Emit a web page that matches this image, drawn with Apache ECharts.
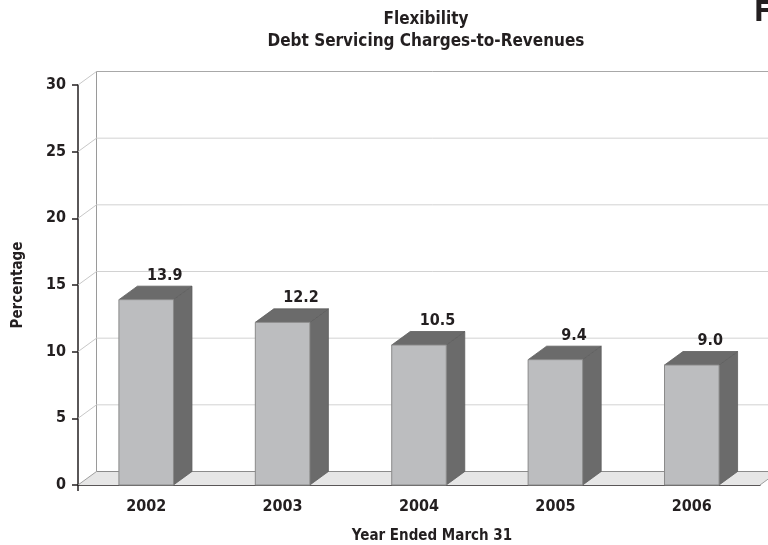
<!DOCTYPE html>
<html>
<head>
<meta charset="utf-8">
<script src="https://cdn.jsdelivr.net/npm/echarts@6/dist/echarts.min.js"></script>
<style>html,body{margin:0;padding:0;background:#fff}#c{width:768px;height:545px}</style>
</head>
<body>
<div id="c"></div>
<script>
var categories = ['2002', '2003', '2004', '2005', '2006'];
var values = [13.9, 12.2, 10.5, 9.4, 9.0];
var valueLabels = ['13.9', '12.2', '10.5', '9.4', '9.0'];
var yTicks = [0, 5, 10, 15, 20, 25, 30];

var FONT = '"DejaVu Sans Condensed", "DejaVu Sans", sans-serif';
var INK = '#231f20';
var DX = 18.5, DY = 13.5;

var chart = echarts.init(document.getElementById('c'));

function wallItem(params, api) {
  var cs = params.coordSys;
  var v = api.value(0);
  var y = api.coord([0, v])[1];
  var gx = cs.x, right = 800;
  var children = [];
  if (v === 0) {
    children.push({
      type: 'polygon',
      shape: { points: [[gx, y], [cs.x + cs.width, y], [cs.x + cs.width + DX, y - DY], [gx + DX, y - DY]] },
      style: { fill: '#e6e6e6', stroke: null },
      z2: 1
    });
    children.push({ type: 'line', shape: { x1: gx + DX, y1: y - DY, x2: right, y2: y - DY }, style: { stroke: '#8c8c8c', lineWidth: 1 }, z2: 2 });
    children.push({ type: 'line', shape: { x1: gx, y1: y, x2: gx + DX, y2: y - DY }, style: { stroke: '#a0a0a0', lineWidth: 1 }, z2: 2 });
    children.push({ type: 'line', shape: { x1: cs.x + cs.width, y1: y, x2: cs.x + cs.width + DX, y2: y - DY }, style: { stroke: '#a0a0a0', lineWidth: 1 }, z2: 2 });
    var yTop = api.coord([0, 30])[1];
    children.push({ type: 'line', shape: { x1: gx + DX, y1: yTop - DY, x2: gx + DX, y2: y - DY }, style: { stroke: '#9a9a9a', lineWidth: 1 }, z2: 2 });
    children.push({ type: 'line', shape: { x1: gx, y1: y, x2: gx, y2: y + 6 }, style: { stroke: INK, lineWidth: 1.5 }, z2: 3 });
  } else {
    var top = (v === 30);
    children.push({ type: 'line', shape: { x1: gx, y1: y, x2: gx + DX, y2: y - DY }, style: { stroke: '#c8c8c8', lineWidth: 1 }, z2: 2 });
    children.push({ type: 'line', shape: { x1: gx + DX, y1: y - DY, x2: right, y2: y - DY }, style: { stroke: top ? '#a8a8a8' : '#d2d2d2', lineWidth: 1 }, z2: 2 });
  }
  return { type: 'group', children: children };
}

function barItem(params, api) {
  var idx = api.value(0);
  var v = api.value(1);
  var top = api.coord([idx, v]);
  var base = api.coord([idx, 0]);
  var band = api.size([1, 0])[0];
  var w = band * 0.4;
  var x0 = top[0] - w / 2, x1 = top[0] + w / 2;
  var yT = top[1], yB = base[1];
  return {
    type: 'group',
    children: [
      { type: 'polygon', shape: { points: [[x1, yB], [x1 + DX, yB - DY], [x1 + DX, yT - DY], [x1, yT]] },
        style: { fill: '#6b6b6b', stroke: '#5e5e5e', lineWidth: 0.8 } },
      { type: 'polygon', shape: { points: [[x0, yT], [x0 + DX, yT - DY], [x1 + DX, yT - DY], [x1, yT]] },
        style: { fill: '#6b6b6b', stroke: '#5e5e5e', lineWidth: 0.8 } },
      { type: 'rect', shape: { x: x0, y: yT, width: w, height: yB - yT },
        style: { fill: '#bcbdbf', stroke: '#8a8a8a', lineWidth: 1 } },
      { type: 'text', style: { text: valueLabels[params.dataIndex], x: top[0] + DX, y: yT - 24,
        align: 'center', verticalAlign: 'middle', fill: INK, font: 'bold 16px ' + FONT } }
    ]
  };
}

chart.setOption({
  animation: false,
  backgroundColor: '#ffffff',
  title: {
    text: 'Flexibility\nDebt Servicing Charges-to-Revenues',
    left: 421, textAlign: 'center', top: 4,
    textStyle: { fontFamily: FONT, fontWeight: 'bold', fontSize: 17, lineHeight: 22, color: INK }
  },
  graphic: [
    { type: 'text', x: 754, y: 13, style: { text: 'F', font: 'bold 29px ' + FONT, fill: INK, verticalAlign: 'middle' } },
    { type: 'text', x: 432, y: 536, style: { text: 'Year Ended March 31', font: 'bold 15px ' + FONT, fill: INK, align: 'center', verticalAlign: 'middle' } }
  ],
  grid: { left: 78, right: 8, top: 85, bottom: 60, containLabel: false },
  xAxis: {
    type: 'category', data: categories,
    axisLine: { lineStyle: { color: INK, width: 1.5 } },
    axisTick: { alignWithLabel: true, length: 6, lineStyle: { color: INK, width: 1.5 } },
    axisLabel: { margin: 14, color: INK, fontFamily: FONT, fontWeight: 'bold', fontSize: 16 },
    splitLine: { show: false }
  },
  yAxis: {
    type: 'value', min: 0, max: 30, interval: 5,
    name: 'Percentage', nameLocation: 'middle', nameRotate: 90, nameGap: 52,
    nameTextStyle: { color: INK, fontFamily: FONT, fontWeight: 'bold', fontSize: 15 },
    axisLine: { show: true, lineStyle: { color: INK, width: 1.5 } },
    axisTick: { show: true, length: 6, lineStyle: { color: INK, width: 1.5 } },
    axisLabel: { margin: 12, color: INK, fontFamily: FONT, fontWeight: 'bold', fontSize: 16 },
    splitLine: { show: false }
  },
  series: [
    { type: 'custom', renderItem: wallItem, data: yTicks.map(function (t) { return [t]; }),
      encode: { y: 0 }, z: 1, silent: true, clip: false },
    { type: 'custom', renderItem: barItem, data: values.map(function (v, i) { return [i, v]; }),
      encode: { x: 0, y: 1 }, z: 5, silent: true, clip: false }
  ]
});
</script>
</body>
</html>
